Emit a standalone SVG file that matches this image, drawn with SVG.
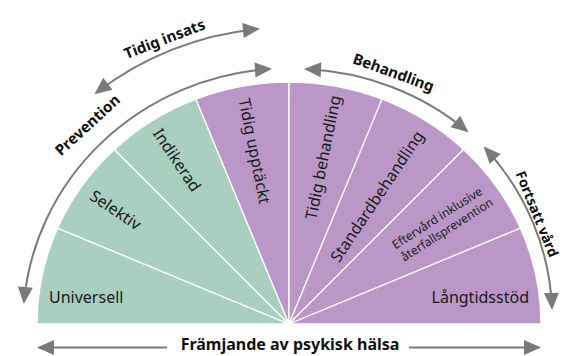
<svg xmlns="http://www.w3.org/2000/svg" width="566" height="356" viewBox="0 0 566 356">
  <style>
    .g { fill: #A8CFC0; stroke: #ffffff; stroke-width: 1.3; stroke-linejoin: round; }
    .p { fill: #BB97C7; stroke: #ffffff; stroke-width: 1.3; stroke-linejoin: round; }
    .lbl { font-family: "Noto Sans", "Open Sans", sans-serif; font-size: 16px; fill: #1a1a1a; }
    .sm { font-family: "Noto Sans", "Open Sans", sans-serif; font-size: 12px; fill: #1a1a1a; }
    .hd { font-family: "Noto Sans", "Open Sans", sans-serif; font-size: 15px; font-weight: bold; fill: #111111; }
    .ttl { font-family: "Noto Sans", "Open Sans", sans-serif; font-size: 16px; font-weight: bold; fill: #111111; }
    .arr { fill: none; stroke: #7a7a7a; stroke-width: 2; marker-start: url(#ah); marker-end: url(#ah); }
    .arr1 { fill: none; stroke: #7a7a7a; stroke-width: 2; marker-end: url(#ah); }
  </style>
  <defs>
    <marker id="ah" viewBox="-18 -9 20 18" refX="-2" refY="0" markerWidth="20" markerHeight="18" markerUnits="userSpaceOnUse" orient="auto-start-reverse">
      <path d="M0,0 L-17,-7.5 L-17,7.5 Z" fill="#7a7a7a"/>
    </marker>
  </defs>

  <g id="universell">
    <path class="g" d="M289,324 L37,324 A252,242 0 0 1 57.6,228.2 Z"/>
    <text class="lbl" x="49" y="303">Universell</text>
  </g>
  <g id="selektiv">
    <path class="g" d="M289,324 L57.6,228.2 A252,242 0 0 1 114.45,149.45 Z"/>
    <text class="lbl" text-anchor="middle" dy="0.35em" transform="translate(115.5,210) rotate(33.75)">Selektiv</text>
  </g>
  <g id="indikerad">
    <path class="g" d="M289,324 L114.45,149.45 A252,242 0 0 1 195.9,99.1 Z"/>
    <text class="lbl" text-anchor="middle" dy="0.35em" transform="translate(177,160) rotate(56.25)">Indikerad</text>
  </g>
  <g id="tidig-upptackt">
    <path class="p" d="M289,324 L195.9,99.1 A252,242 0 0 1 289,82 Z"/>
    <text class="lbl" text-anchor="middle" dy="0.35em" transform="translate(254.5,151) rotate(78.75)">Tidig upptäckt</text>
  </g>
  <g id="tidig-behandling">
    <path class="p" d="M289,324 L289,82 A252,242 0 0 1 382.1,99.1 Z"/>
    <text class="lbl" text-anchor="middle" dy="0.35em" transform="translate(323,157.5) rotate(-78.75)">Tidig behandling</text>
  </g>
  <g id="standardbehandling">
    <path class="p" d="M289,324 L382.1,99.1 A252,242 0 0 1 463.55,149.45 Z"/>
    <text class="lbl" text-anchor="middle" dy="0.35em" transform="translate(377,196.5) rotate(-56.25)">Standardbehandling</text>
  </g>
  <g id="efterward">
    <path class="p" d="M289,324 L463.55,149.45 A252,242 0 0 1 520.4,228.2 Z"/>
    <g transform="translate(441,224) rotate(-32.5)">
      <text class="sm" text-anchor="middle" x="0" y="-3">Eftervård inklusive</text>
      <text class="sm" text-anchor="middle" x="2" y="12">återfallsprevention</text>
    </g>
  </g>
  <g id="langtidsstod">
    <path class="p" d="M289,324 L520.4,228.2 A252,242 0 0 1 541,324 Z"/>
    <text class="lbl" text-anchor="end" x="529" y="303">Långtidsstöd</text>
  </g>

  <g id="connectors">
    <path id="arc-prevention" class="arr" d="M24,302 A266,256 0 0 1 270,69"/>
    <path id="arc-tidig-insats" class="arr" d="M96,93 A307,297 0 0 1 258,29"/>
    <path id="arc-behandling" class="arr" d="M306,69 A266,256 0 0 1 467,131"/>
    <path id="arc-fortsatt" class="arr" d="M485,148 A266,256 0 0 1 552,308"/>
    <path id="arrow-left" class="arr1" d="M167,347.5 L39,347.5"/>
    <path id="arrow-right" class="arr1" d="M409,347.5 L539,347.5"/>
  </g>

  <g id="labels">
    <text class="hd" text-anchor="middle" dy="0.35em" transform="translate(164.5,39) rotate(-21)">Tidig insats</text>
    <text class="hd" text-anchor="middle" dy="0.35em" transform="translate(87.5,125) rotate(-42.5)">Prevention</text>
    <text class="hd" text-anchor="middle" dy="0.35em" transform="translate(393.5,72.5) rotate(20)">Behandling</text>
    <text class="hd" text-anchor="middle" dy="0.35em" style="font-size:14px" transform="translate(537,214) rotate(68)">Fortsatt vård</text>
    <text class="ttl" text-anchor="middle" x="290" y="349.5">Främjande av psykisk hälsa</text>
  </g>
</svg>
